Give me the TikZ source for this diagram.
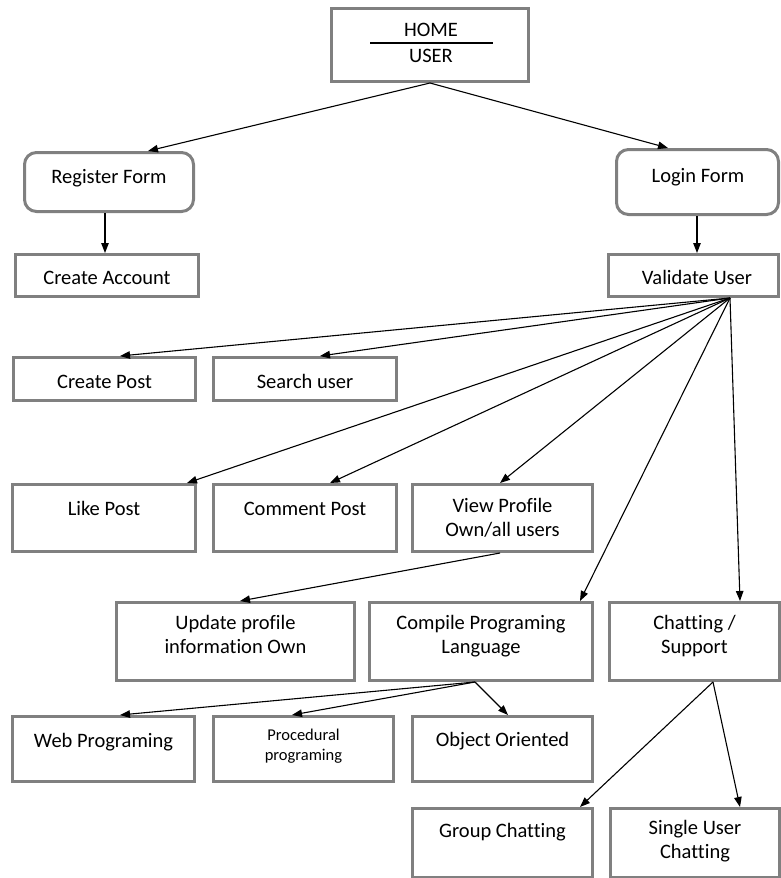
\documentclass[tikz,border=0pt]{standalone}
\usepackage{fontspec}
\setmainfont[Ligatures=NoCommon]{Carlito}
\usetikzlibrary{arrows.meta,fit}
\definecolor{boxgray}{RGB}{128,128,128}
\begin{document}
\begin{tikzpicture}[x=1pt,y=-1pt,
  box/.style={draw=boxgray, line width=3pt, inner sep=0pt, fill=white},
  rbox/.style={box, rounded corners=12pt},
  txt/.style={anchor=north, yshift=17.15pt, inner sep=0pt, align=center, text=black,
    font=\fontsize{20.5}{24.5}\selectfont, execute at begin node=\strut},
  smalltxt/.style={txt, yshift=-3.15pt, font=\fontsize{16.5}{20}\selectfont},
  con/.style={line width=1.1pt, draw=black, -{Triangle[length=10pt,width=7.5pt]}}]
\useasboundingbox (0,0) rectangle (781,878);
\fill[white] (0,0) rectangle (781,878);

% boxes
\node[box,  fit={(331.5,8.5)(528.5,81.5)}] (home) {};
\node[rbox, fit={(24.5,152.5)(193.5,211.5)}] (register) {};
\node[rbox, fit={(616.5,149.5)(778.5,214.5)}] (login) {};
\node[box,  fit={(15.5,254.5)(198.5,296.5)}] (createacc) {};
\node[box,  fit={(608.5,254.5)(778.5,296.5)}] (validate) {};
\node[box,  fit={(13.5,357.5)(195.5,400.5)}] (cpost) {};
\node[box,  fit={(213.5,357.5)(396.5,400.5)}] (search) {};
\node[box,  fit={(12.5,484.5)(195.5,551.5)}] (like) {};
\node[box,  fit={(213.5,484.5)(396.5,551.5)}] (comment) {};
\node[box,  fit={(412.5,484.5)(592.5,551.5)}] (view) {};
\node[box,  fit={(116.5,602.5)(354.5,680.5)}] (update) {};
\node[box,  fit={(369.5,602.5)(592.5,680.5)}] (compile) {};
\node[box,  fit={(609.5,602.5)(779.5,680.5)}] (chat) {};
\node[box,  fit={(12.5,716.5)(194.5,781.5)}] (web) {};
\node[box,  fit={(213.5,716.5)(393.5,781.5)}] (proc) {};
\node[box,  fit={(412.5,716.5)(592.5,781.5)}] (obj) {};
\node[box,  fit={(412.5,808.5)(592.5,877)}] (group) {};
\node[box,  fit={(610.5,808.5)(779.5,877)}] (single) {};

% texts
\node[txt] (homeT) at (431,36.5) {HOME};
\node[txt] (userT) at (431,62.5) {USER};
\coordinate (sepL) at (370,43);
\coordinate (sepR) at (493,43);
\draw[line width=1.2pt] (sepL) -- (sepR);
\node[txt] (registerT) at (109,183) {Register Form};
\node[txt] (loginT) at (698,182) {Login Form};
\node[txt] (createaccT) at (107,284) {Create Account};
\node[txt] (validateT) at (697,284) {Validate User};
\node[txt] (cpostT) at (104.5,388) {Create Post};
\node[txt] (searchT) at (305,388) {Search user};
\node[txt] (likeT) at (104,515) {Like Post};
\node[txt] (commentT) at (305,515) {Comment Post};
\node[txt] (viewT) at (502.5,515) {View Profile\\Own/all users};
\node[txt] (updateT) at (235.5,632) {Update profile\\information Own};
\node[txt] (compileT) at (481,632) {Compile Programing\\Language};
\node[txt] (chatT) at (694.5,632) {Chatting /\\Support};
\node[txt] (webT) at (103.5,747) {Web Programing};
\node[smalltxt] (procT) at (303.5,743) {Procedural\\programing};
\node[txt] (objT) at (502.5,746) {Object Oriented};
\node[txt] (groupT) at (502.5,837) {Group Chatting};
\node[txt] (singleT) at (695,837) {Single User\\Chatting};

% connectors
\draw[con] (home.south -| 430,0) -- (register.north -| 148,0);
\draw[con] (home.south -| 430,0) -- (login.north -| 668,0);
\draw[con] (register.south -| 105,0) -- (createacc.north -| 105,0);
\draw[con] (login.south -| 697,0) -- (validate.north -| 697,0);
\draw[con] (validate.south -| 730,0) -- (cpost.north -| 120,0);
\draw[con] (validate.south -| 730,0) -- (search.north -| 320,0);
\draw[con] (validate.south -| 730,0) -- (like.north -| 187,0);
\draw[con] (validate.south -| 730,0) -- (comment.north -| 330,0);
\draw[con] (validate.south -| 730,0) -- (view.north -| 500,0);
\draw[con] (validate.south -| 730,0) -- (compile.north -| 580,0);
\draw[con] (validate.south -| 730,0) -- (chat.north -| 740,0);
\draw[con] (view.south -| 500,0) -- (update.north -| 240,0);
\draw[con] (compile.south -| 475,0) -- (web.north -| 120,0);
\draw[con] (compile.south -| 475,0) -- (proc.north -| 292,0);
\draw[con] (compile.south -| 475,0) -- (obj.north -| 508,0);
\draw[con] (chat.south -| 713,0) -- (group.north -| 580,0);
\draw[con] (chat.south -| 713,0) -- (single.north -| 740,0);
\end{tikzpicture}
\end{document}
